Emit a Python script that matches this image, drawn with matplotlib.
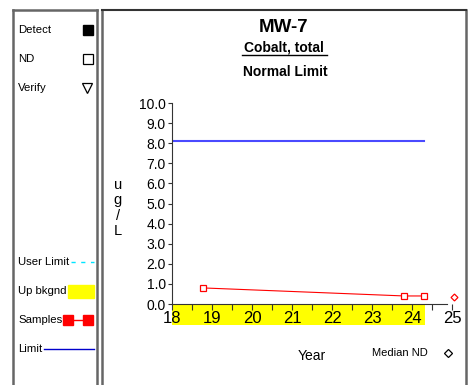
import matplotlib
matplotlib.use("Agg")
import matplotlib.pyplot as plt
from matplotlib.patches import Rectangle
from matplotlib.ticker import MultipleLocator, FormatStrFormatter

plt.rcParams['font.family'] = ['Liberation Sans', 'DejaVu Sans']

# Sample results
sample_years = [18.77, 23.81, 24.29]
sample_values = [0.8, 0.4, 0.4]

# Normal (intra-well) limit and how far it is drawn
limit_value = 8.1
limit_years = [18.0, 24.3]

# Upper background band
bkgnd_years = [18.0, 24.33]
bkgnd_range = [-1.05, 0.0]

# Median of non-detects
median_nd_year = 25.06
median_nd_value = 0.37

year_ticks = [18, 19, 20, 21, 22, 23, 24, 25]

W, H = 474, 385
fig = plt.figure(figsize=(W / 100, H / 100), dpi=100)

# Overlay in pixel units for the frames and the key panel
bg = fig.add_axes([0, 0, 1, 1])
bg.set_xlim(0, W)
bg.set_ylim(H, 0)
bg.axis('off')

frame = '#666666'
bg.plot([13, 13], [10, H], color=frame, lw=1.8)
bg.plot([97, 97], [10, H], color=frame, lw=1.8)
bg.plot([13, 97], [10, 10], color=frame, lw=1.8)
bg.plot([102, 102], [10, H], color=frame, lw=1.8)
bg.plot([466, 466], [10, H], color=frame, lw=1.8)
bg.plot([102, 466], [10, 10], color='#333333', lw=1.5)

# Key panel
key_fs = 8.2
bg.text(18, 30, 'Detect', fontsize=key_fs, va='center')
bg.plot(88, 30, marker='s', color='black', markersize=6.5)
bg.text(18, 59, 'ND', fontsize=key_fs, va='center')
bg.plot(88, 59, marker='s', mfc='white', mec='black', markersize=6.5, mew=0.9)
bg.text(18, 88, 'Verify', fontsize=key_fs, va='center')
bg.plot(87, 88, marker='v', mfc='white', mec='black', markersize=7.5, mew=0.9)

bg.text(18, 262, 'User Limit', fontsize=key_fs, va='center')
bg.plot([71, 94], [262, 262], color='#00e5ff', lw=1, dashes=(3, 4))
bg.text(18, 291, 'Up bkgnd', fontsize=key_fs, va='center')
bg.add_patch(Rectangle((68, 285), 26, 13, color='#ffff00'))
bg.text(18, 320, 'Samples', fontsize=key_fs, va='center')
bg.plot([68, 88], [320, 320], color='red', lw=1)
bg.plot([68, 88], [320, 320], ls='none', marker='s', color='red', markersize=7)
bg.text(18, 349, 'Limit', fontsize=key_fs, va='center')
bg.plot([44, 94], [349, 349], color='#0000cc', lw=1)

# Titles
bg.text(284, 27, 'MW-7', fontsize=13.5, fontweight='bold', ha='center', va='center')
bg.text(284, 48, 'Cobalt, total', fontsize=10, fontweight='bold', ha='center', va='center')
bg.plot([242, 327], [55, 55], color='black', lw=1)
bg.text(285, 72, 'Normal Limit', fontsize=10, fontweight='bold', ha='center', va='center')

bg.text(118, 208, 'u\ng\n/\nL', fontsize=10.5, ha='center', va='center', linespacing=1.12)
bg.text(312, 356, 'Year', fontsize=10, ha='center', va='center')
bg.text(400, 353, 'Median ND', fontsize=8, ha='center', va='center')
bg.plot(448, 353, marker='D', mfc='white', mec='black', markersize=4, mew=0.9)

# Plot area
ax = fig.add_axes([172 / W, (H - 304) / H, (452 - 172) / W, (304 - 103) / H])
ax.set_xlim(18, 25)
ax.set_ylim(0, 10)
ax.patch.set_alpha(0)
for s in ['top', 'right']:
    ax.spines[s].set_visible(False)
ax.spines['bottom'].set_bounds(18, 24.875)
ax.spines['left'].set_color('#333333')
ax.spines['bottom'].set_color('#333333')

ax.fill_between(bkgnd_years, bkgnd_range[0], bkgnd_range[1], color='#ffff00',
                lw=0, clip_on=False, zorder=0)
ax.plot(limit_years, [limit_value, limit_value], color='#4a4aff', lw=1.5)
ax.plot(sample_years, sample_values, color='red', lw=0.8, marker='s',
        mfc='white', mec='red', markersize=5, mew=0.9, clip_on=False)
ax.plot(median_nd_year, median_nd_value, marker='D', mfc='white', mec='red',
        markersize=3.5, mew=0.9, clip_on=False)

ax.set_xticks(year_ticks)
ax.set_xticklabels([str(y) for y in year_ticks])
ax.xaxis.set_minor_locator(MultipleLocator(0.5))
ax.yaxis.set_major_locator(MultipleLocator(1.0))
ax.yaxis.set_major_formatter(FormatStrFormatter('%.1f'))
ax.tick_params(axis='x', which='both', direction='out', length=4, width=0.8,
               labelsize=12, pad=1, color='#333333')
ax.tick_params(axis='y', direction='out', length=3, width=0.8, labelsize=10,
               pad=1.5, color='#333333')

fig.savefig('out.png', dpi=100)
